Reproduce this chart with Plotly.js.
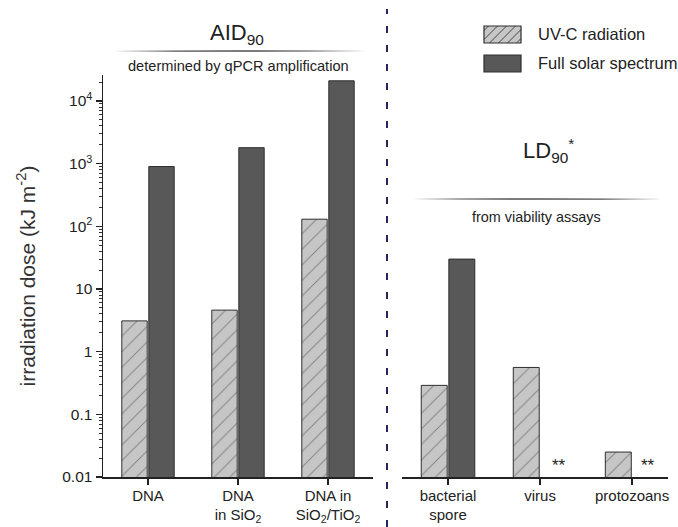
<!DOCTYPE html>
<html>
<head>
<meta charset="utf-8">
<script src="https://cdn.plot.ly/plotly-3.0.1.min.js"></script>
<style>html,body{margin:0;padding:0;background:#fff;}#chart{width:678px;height:527px;}</style>
</head>
<body>
<div id="chart"></div>
<script>
// ---- data ----
const leftCategories = ["DNA", "DNA<br>in SiO<sub>2</sub>", "DNA in<br>SiO<sub>2</sub>/TiO<sub>2</sub>"];
const rightCategories = ["bacterial<br>spore", "virus", "protozoans"];
const uvcLeft = [3.1, 4.6, 130];
const solarLeft = [900, 1800, 21000];
const uvcRight = [0.29, 0.56, 0.025];
const solarRight = [30, null, null];
const seriesNames = ["UV-C radiation", "Full solar spectrum"];
const yTickVals = [0.01, 0.1, 1, 10, 100, 1000, 10000];
const yTickText = ["0.01", "0.1", "1", "10", "10<sup>2</sup>", "10<sup>3</sup>", "10<sup>4</sup>"];

// ---- layout helpers (pixel -> paper) ----
const W = 678, H = 527;
const M = {l: 103, r: 10, t: 75, b: 50};
const PW = W - M.l - M.r, PH = H - M.t - M.b;
const px = x => (x - M.l) / PW;
const py = y => (H - M.b - y) / PH;

const HATCH_BG = "#c6c6c6", HATCH_FG = "#454545", SOLID = "#585858", EDGE = "#2e2e2e";
const hatch = {
  color: HATCH_BG,
  line: {color: EDGE, width: 1},
  pattern: {shape: "/", fgcolor: HATCH_FG, bgcolor: HATCH_BG, size: 11, solidity: 0.09, fillmode: "overlay"}
};
const solid = {color: SOLID, line: {color: EDGE, width: 1}};

const traces = [
  {type: "bar", x: leftCategories, y: uvcLeft, name: seriesNames[0], marker: hatch, xaxis: "x", yaxis: "y", showlegend: false},
  {type: "bar", x: leftCategories, y: solarLeft, name: seriesNames[1], marker: solid, xaxis: "x", yaxis: "y", showlegend: false},
  {type: "bar", x: rightCategories, y: uvcRight, name: seriesNames[0], marker: hatch, xaxis: "x2", yaxis: "y", showlegend: false},
  {type: "bar", x: rightCategories, y: solarRight, name: seriesNames[1], marker: solid, xaxis: "x2", yaxis: "y", showlegend: false}
];

function lens(x0, x1, y, th) {
  const xm = (x0 + x1) / 2;
  return `M ${px(x0)} ${py(y)} Q ${px(xm)} ${py(y - th)} ${px(x1)} ${py(y)} Q ${px(xm)} ${py(y + th)} ${px(x0)} ${py(y)} Z`;
}

// hatch lines (45deg "/") clipped to a pixel rect, returned as a paper-coord path
function hatchPath(x0, y0, x1, y1, step) {
  const h = y1 - y0;
  let d = "";
  for (let s = x0 - h + step / 2; s < x1; s += step) {
    let ax = s, ay = y1, bx = s + h, by = y0;
    if (ax < x0) { ay -= (x0 - ax); ax = x0; }
    if (bx > x1) { by += (bx - x1); bx = x1; }
    if (ay <= by) continue;
    d += `M ${px(ax)} ${py(ay)} L ${px(bx)} ${py(by)} `;
  }
  return d;
}

// minor tick positions for the log axis (axis styling)
const minorVals = [];
for (let e = -2; e <= 4; e++) for (let k = 2; k <= 9; k++) minorVals.push(k * Math.pow(10, e));

const FAM = "Liberation Sans, Arial, sans-serif";
const axisCommon = {
  showline: true, linecolor: "#222", linewidth: 1.5, ticks: "outside", ticklen: 6, tickwidth: 1.5, tickcolor: "#222",
  showgrid: false, zeroline: false, tickfont: {size: 15.5, color: "#222"}, fixedrange: true
};
const xAxisCommon = Object.assign({}, axisCommon, {tickfont: {size: 15, color: "#222"}, ticklabelstandoff: -2});

const legendSwatch = [
  {x0: 484, y0: 26, x1: 521, y1: 43},
  {x0: 484, y0: 55, x1: 521, y1: 72}
];

const layout = {
  width: W, height: H,
  margin: M,
  paper_bgcolor: "#fff", plot_bgcolor: "#fff",
  font: {family: FAM, size: 15, color: "#222"},
  barmode: "group", bargap: 0.4, bargroupgap: 0.06,
  showlegend: false,
  xaxis: Object.assign({domain: [0, px(373)], anchor: "y", type: "category", range: [-0.5, 2.5]}, xAxisCommon),
  xaxis2: Object.assign({domain: [px(402), 1], anchor: "y", type: "category", range: [-0.5, 2.39]}, xAxisCommon),
  yaxis: Object.assign({type: "log", range: [-2, 4.415], domain: [0, 1], anchor: "x",
          tickmode: "array", tickvals: yTickVals, ticktext: yTickText,
          minor: {ticks: "outside", ticklen: 3, tickwidth: 1, tickcolor: "#333", tickmode: "array", tickvals: minorVals},
          title: {text: "irradiation dose (kJ m<sup>-2</sup>)", font: {size: 21, color: "#333"}, standoff: 21}}, axisCommon),
  shapes: [
    {type: "line", xref: "paper", yref: "paper", x0: px(387), x1: px(387), y0: py(527), y1: py(9),
     line: {color: "#28255c", width: 2, dash: "7px,12px"}},
    {type: "path", xref: "paper", yref: "paper", path: lens(113, 367, 51, 1.7), fillcolor: "#505050", line: {width: 0}},
    {type: "path", xref: "paper", yref: "paper", path: lens(412, 663, 199, 1.7), fillcolor: "#505050", line: {width: 0}},
    // legend swatches
    {type: "rect", xref: "paper", yref: "paper", x0: px(legendSwatch[0].x0), x1: px(legendSwatch[0].x1),
     y0: py(legendSwatch[0].y1), y1: py(legendSwatch[0].y0), fillcolor: HATCH_BG, line: {width: 0}},
    {type: "path", xref: "paper", yref: "paper",
     path: hatchPath(legendSwatch[0].x0, legendSwatch[0].y0, legendSwatch[0].x1, legendSwatch[0].y1, 9),
     line: {color: HATCH_FG, width: 1}},
    {type: "rect", xref: "paper", yref: "paper", x0: px(legendSwatch[0].x0), x1: px(legendSwatch[0].x1),
     y0: py(legendSwatch[0].y1), y1: py(legendSwatch[0].y0), line: {color: EDGE, width: 1.2}},
    {type: "rect", xref: "paper", yref: "paper", x0: px(legendSwatch[1].x0), x1: px(legendSwatch[1].x1),
     y0: py(legendSwatch[1].y1), y1: py(legendSwatch[1].y0), fillcolor: SOLID, line: {color: EDGE, width: 1.2}}
  ],
  annotations: [
    {xref: "paper", yref: "paper", x: px(536), y: py(34.5), text: seriesNames[0], showarrow: false,
     font: {size: 16.5, color: "#222"}, xanchor: "left", yanchor: "middle"},
    {xref: "paper", yref: "paper", x: px(536), y: py(63.5), text: seriesNames[1], showarrow: false,
     font: {size: 16.5, color: "#222"}, xanchor: "left", yanchor: "middle"},
    {xref: "paper", yref: "paper", x: px(237), y: py(34), text: "AID<sub>90</sub>", showarrow: false,
     font: {size: 22, color: "#222"}, xanchor: "center", yanchor: "middle"},
    {xref: "paper", yref: "paper", x: px(238), y: py(66), text: "determined by qPCR amplification", showarrow: false,
     font: {size: 14.6, color: "#222"}, xanchor: "center", yanchor: "middle"},
    {xref: "paper", yref: "paper", x: px(548), y: py(150), text: "LD<sub>90</sub><sup>*</sup>", showarrow: false,
     font: {size: 22, color: "#222"}, xanchor: "center", yanchor: "middle"},
    {xref: "paper", yref: "paper", x: px(536), y: py(217), text: "from viability assays", showarrow: false,
     font: {size: 14.4, color: "#222"}, xanchor: "center", yanchor: "middle"},
    {xref: "x2", yref: "y", x: rightCategories[1], y: Math.log10(0.0155), text: "**", showarrow: false, xshift: 19,
     font: {size: 17, color: "#222"}, xanchor: "center", yanchor: "middle"},
    {xref: "x2", yref: "y", x: rightCategories[2], y: Math.log10(0.0155), text: "**", showarrow: false, xshift: 16,
     font: {size: 17, color: "#222"}, xanchor: "center", yanchor: "middle"}
  ]
};

Plotly.newPlot("chart", traces, layout, {displayModeBar: false, staticPlot: true});
</script>
</body>
</html>
